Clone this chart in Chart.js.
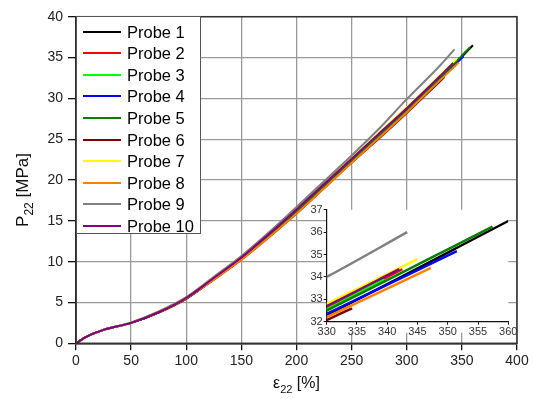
<!DOCTYPE html>
<html>
<head>
<meta charset="utf-8">
<script src="https://cdn.jsdelivr.net/npm/chart.js@4"></script>
<style>
    body { margin: 0; background: #fff; }
    #wrap { position: relative; width: 534px; height: 399px; overflow: hidden; }
    #mainChart { position: absolute; left: 0; top: 0; }
    #insetChart { position: absolute; left: 290px; top: 200px; }
    #legend {
        position: absolute; left: 76px; top: 16px; width: 125px; height: 218px;
        background: #fff; border: 1.5px solid #555; box-sizing: border-box;
        font-family: "Liberation Sans", Arial, sans-serif; font-size: 16.5px; color: #000;
    }
    .row { position: absolute; left: 0; height: 20px; line-height: 20px; white-space: nowrap; }
    .swatch { position: absolute; left: 6px; top: 9px; width: 38px; height: 2px; }
    .lbl { position: absolute; left: 50px; top: 0; }
</style>
</head>
<body>
<div id="wrap">
    <canvas id="mainChart" width="534" height="399"></canvas>
    <canvas id="insetChart" width="240" height="140"></canvas>
    <div id="legend"></div>
</div>
<script>
// data
const probeNames = ['Probe 1', 'Probe 2', 'Probe 3', 'Probe 4', 'Probe 5', 'Probe 6', 'Probe 7', 'Probe 8', 'Probe 9', 'Probe 10'];
const probeColors = ['#000000', '#ff0000', '#00ff00', '#0000ff', '#008000', '#800000', '#ffff00', '#ff8000', '#808080', '#800080'];

// strain [%] shared by all probes, then each probe gets its own end point
const strain = [0, 10, 25, 50, 75, 100, 125, 150, 175, 200, 225, 250, 275, 300, 330];

const stressP1 = [0, 0.85, 1.65, 2.5, 3.8, 5.5, 7.85, 10.3, 13.1, 16.0, 19.1, 22.2, 25.3, 28.4, 32.3];
const stressP2 = [0, 0.85, 1.65, 2.5, 3.8, 5.5, 7.95, 10.45, 13.3, 16.3, 19.4, 22.5, 25.6, 28.7, 32.6];
const stressP3 = [0, 0.85, 1.65, 2.5, 3.8, 5.5, 7.95, 10.45, 13.3, 16.3, 19.4, 22.5, 25.6, 28.65, 32.55];
const stressP4 = [0, 0.85, 1.65, 2.5, 3.8, 5.5, 7.85, 10.35, 13.1, 16.1, 19.2, 22.3, 25.4, 28.45, 32.35];
const stressP5 = [0, 0.85, 1.65, 2.5, 3.8, 5.5, 7.9, 10.4, 13.2, 16.2, 19.3, 22.4, 25.5, 28.6, 32.5];
const stressP6 = [0, 0.85, 1.65, 2.5, 3.75, 5.45, 7.8, 10.25, 13.0, 15.9, 19.0, 22.1, 25.1, 28.2, 32.07];
const stressP7 = [0, 0.85, 1.65, 2.55, 3.9, 5.65, 8.1, 10.65, 13.5, 16.5, 19.6, 22.7, 25.8, 28.9, 32.8];
const stressP8 = [0, 0.85, 1.65, 2.5, 3.8, 5.5, 7.8, 10.25, 13.0, 15.9, 19.0, 22.1, 25.2, 28.3, 32.2];
const stressP9 = [0, 0.85, 1.65, 2.55, 3.9, 5.65, 8.15, 10.7, 13.6, 16.7, 19.85, 23.0, 26.3, 29.9, 34.0];
const stressP10 = [0, 0.85, 1.65, 2.5, 3.8, 5.55, 8.0, 10.5, 13.4, 16.4, 19.5, 22.6, 25.7, 28.8, 32.7];
const allStress = [stressP1, stressP2, stressP3, stressP4, stressP5, stressP6, stressP7, stressP8, stressP9, stressP10];

// where each probe ends (last point)
const endStrain = [360, 342.5, 339.5, 351.5, 357.4, 334.2, 345, 347.2, 343.3, 342];
const endStress = [36.5, 34.35, 33.9, 35.15, 36.25, 32.6, 34.8, 34.4, 36.0, 34.35];

const mainXTicks = [0, 50, 100, 150, 200, 250, 300, 350, 400];
const mainYTicks = [0, 5, 10, 15, 20, 25, 30, 35, 40];
const insetXTicks = [330, 335, 340, 345, 350, 355, 360];
const insetYTicks = [32, 33, 34, 35, 36, 37];

const FONT = '"Liberation Sans", Arial, sans-serif';

function buildDatasets(width) {
    return probeNames.map(function (name, i) {
        const pts = strain.map(function (s, k) { return { x: s, y: allStress[i][k] }; });
        pts.push({ x: endStrain[i], y: endStress[i] });
        return {
            label: name,
            data: pts,
            borderColor: probeColors[i],
            backgroundColor: probeColors[i],
            borderWidth: width,
            pointRadius: 0,
            cubicInterpolationMode: 'monotone',
            fill: false,
            order: probeNames.length - i  // Probe 10 on top
        };
    });
}

function fixedTicks(list) {
    return function (scale) {
        scale.ticks = list.map(function (v) { return { value: v }; });
    };
}

// axis titles with subscripts + frame
const mainDecor = {
    id: 'mainDecor',
    afterDraw: function (chart) {
        const ctx = chart.ctx;
        const a = chart.chartArea;
        ctx.save();
        ctx.strokeStyle = '#333';
        ctx.lineWidth = 1.5;
        ctx.strokeRect(a.left, a.top, a.right - a.left, a.bottom - a.top);

        ctx.fillStyle = '#111';
        ctx.textBaseline = 'alphabetic';
        // x title
        const big = '16px ' + FONT, small = '11px ' + FONT;
        ctx.font = big;
        const wE = ctx.measureText('\u03b5').width;
        const wU = ctx.measureText(' [%]').width;
        ctx.font = small;
        const wS = ctx.measureText('22').width;
        let x = (a.left + a.right) / 2 - (wE + wS + wU) / 2;
        const by = 388;
        ctx.font = big; ctx.textAlign = 'left';
        ctx.fillText('\u03b5', x, by); x += wE;
        ctx.font = small; ctx.fillText('22', x, by + 5); x += wS;
        ctx.font = big; ctx.fillText(' [%]', x, by);

        // y title
        const yb = '17px ' + FONT, ys = '12px ' + FONT;
        ctx.font = yb;
        const wP = ctx.measureText('P').width;
        const wM = ctx.measureText(' [MPa]').width;
        ctx.font = ys;
        const wS2 = ctx.measureText('22').width;
        ctx.translate(28, 190);
        ctx.rotate(-Math.PI / 2);
        let t = -(wP + wS2 + wM) / 2;
        ctx.font = yb; ctx.fillText('P', t, 0); t += wP;
        ctx.font = ys; ctx.fillText('22', t, 5); t += wS2;
        ctx.font = yb; ctx.fillText(' [MPa]', t, 0);
        ctx.restore();
    }
};

const mainChart = new Chart(document.getElementById('mainChart'), {
    type: 'line',
    data: { datasets: buildDatasets(2) },
    plugins: [mainDecor],
    options: {
        responsive: false,
        animation: false,
        devicePixelRatio: 1,
        layout: { padding: { left: 0, top: 16.7, right: 17, bottom: 0 } },
        plugins: { legend: { display: false }, tooltip: { enabled: false } },
        scales: {
            x: {
                type: 'linear', min: 0, max: 400,
                afterBuildTicks: fixedTicks(mainXTicks),
                afterFit: function (s) { s.height = 55.7; },
                ticks: { color: '#222', font: { family: FONT, size: 14 }, padding: 2, maxRotation: 0 },
                grid: { color: '#9a9a9a', lineWidth: 1.3, tickLength: 7, tickColor: '#111', tickWidth: 1.3 },
                border: { display: true, color: '#111', width: 1.5 }
            },
            y: {
                type: 'linear', min: 0, max: 40,
                afterBuildTicks: fixedTicks(mainYTicks),
                afterFit: function (s) { s.width = 76; },
                ticks: { color: '#222', font: { family: FONT, size: 14 }, padding: 5 },
                grid: { color: '#9a9a9a', lineWidth: 1.3, tickLength: 8, tickColor: '#111', tickWidth: 1.3 },
                border: { display: true, color: '#111', width: 1.5 }
            }
        }
    }
});

// white plot background of the inset
const insetBg = {
    id: 'insetBg',
    beforeDraw: function (chart) {
        const a = chart.chartArea;
        const ctx = chart.ctx;
        ctx.save();
        ctx.fillStyle = '#fff';
        ctx.fillRect(a.left, a.top, a.right - a.left, a.bottom - a.top + 11);
        ctx.restore();
    }
};

const insetChart = new Chart(document.getElementById('insetChart'), {
    type: 'line',
    data: { datasets: buildDatasets(2.5) },
    plugins: [insetBg],
    options: {
        responsive: false,
        animation: false,
        devicePixelRatio: 1,
        layout: { padding: { left: 0, top: 9.8, right: 21.7, bottom: 0 } },
        plugins: { legend: { display: false }, tooltip: { enabled: false } },
        scales: {
            x: {
                type: 'linear', min: 330, max: 360,
                afterBuildTicks: fixedTicks(insetXTicks),
                afterFit: function (s) { s.height = 18.3; },
                ticks: { color: '#333', font: { family: FONT, size: 11 }, padding: 1, maxRotation: 0 },
                grid: { drawOnChartArea: false, tickLength: 3, tickColor: '#111' },
                border: { display: true, color: '#111', width: 1.2 }
            },
            y: {
                type: 'linear', min: 32, max: 37,
                afterBuildTicks: fixedTicks(insetYTicks),
                afterFit: function (s) { s.width = 36.7; },
                ticks: { color: '#333', font: { family: FONT, size: 11 }, padding: 1 },
                grid: { drawOnChartArea: false, tickLength: 3, tickColor: '#111' },
                border: { display: true, color: '#111', width: 1.2 }
            }
        }
    }
});

// legend from the chart's datasets
const legendBox = document.getElementById('legend');
mainChart.data.datasets.forEach(function (ds, i) {
    const row = document.createElement('div');
    row.className = 'row';
    row.style.top = (4.5 + i * 21.6) + 'px';
    row.innerHTML = '<span class="swatch" style="background:' + ds.borderColor + '"></span>' +
        '<span class="lbl">' + ds.label + '</span>';
    legendBox.appendChild(row);
});
</script>
</body>
</html>
